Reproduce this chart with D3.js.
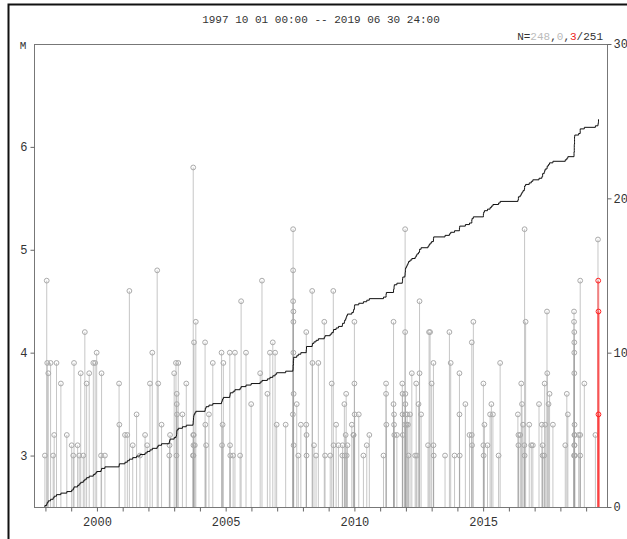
<!DOCTYPE html>
<html lang="ja">
<head>
  <meta charset="UTF-8" />
  <title>M-T</title>
  <style>
    body { margin: 0; background: #fff; }
    svg text { font-family: "Liberation Mono", "DejaVu Sans Mono", monospace; fill: #333; }
    .axis path { display: none; }
    .axis line { stroke: #666; }
    .axis text { font-size: 12px; fill: #333; }
  </style>
</head>
<body>
  <div id="chart"></div>
  <script src="https://d3js.org/d3.v7.min.js"></script>
  <script>
    // 期間・ラベル
    const titleText = '1997 10 01 00:00 -- 2019 06 30 24:00';
    const yearTicks = d3.range(1998, 2020);
    const yearLabels = [2000, 2005, 2010, 2015];
    const magTicks = [3, 4, 5, 6];
    const countTicks = [0, 100, 200, 300];

    // 地震 (灰色): 発生時期 (年) と M
    const grayYears = [
      1997.98, 1998.05, 1998.07, 1998.11, 1998.20, 1998.30, 1998.34, 1998.43, 1998.60, 1998.83,
      1999.02, 1999.08, 1999.11, 1999.25, 1999.31, 1999.37, 1999.47, 1999.53, 1999.60, 1999.70,
      1999.86, 1999.93, 1999.99,
      2000.16, 2000.18, 2000.31, 2000.86, 2000.87, 2001.09, 2001.18, 2001.26, 2001.39, 2001.54,
      2001.67, 2001.87, 2001.95, 2002.06, 2002.15, 2002.34, 2002.38, 2002.51, 2002.81, 2002.84,
      2003.00, 2003.07, 2003.10, 2003.10, 2003.11, 2003.16, 2003.32, 2003.47, 2002.82, 2003.09,
      2003.73, 2003.74, 2003.74, 2003.75, 2003.75, 2003.76, 2003.77, 2003.80, 2003.84,
      2004.20, 2004.21, 2004.24, 2004.35, 2004.50, 2004.84, 2004.86, 2004.88, 2004.91, 2005.16,
      2005.17, 2005.18,
      2005.29, 2005.36, 2005.56, 2005.60, 2005.79, 2005.99, 2006.34, 2006.41, 2006.62, 2006.72,
      2006.83, 2006.92, 2006.98, 2007.33,
      2007.61, 2007.62, 2007.62, 2007.62, 2007.63, 2007.63, 2007.63, 2007.64, 2007.64, 2007.76,
      2007.82,
      2007.92, 2008.13, 2008.13, 2008.14, 2008.36, 2008.37, 2008.43, 2008.51, 2008.60, 2008.83,
      2008.86, 2009.06, 2009.12, 2009.18, 2009.19, 2009.29, 2009.38, 2009.53, 2009.61, 2009.62,
      2009.66, 2009.68, 2009.70, 2009.73, 2009.90, 2009.96, 2009.97, 2010.00, 2010.00, 2010.01,
      2008.14, 2009.54,
      2010.17, 2010.35, 2010.48, 2010.58, 2011.13, 2011.23, 2011.23, 2011.24, 2011.52, 2011.52,
      2011.54, 2011.54, 2011.55, 2011.65,
      2011.86, 2011.87, 2011.87, 2011.88, 2011.96, 2011.97, 2011.97, 2011.98, 2011.98, 2011.99,
      2012.02, 2012.05, 2012.08, 2012.10,
      2012.16, 2012.23, 2012.36, 2012.40, 2012.43, 2012.49, 2012.53, 2012.53, 2012.59, 2012.86,
      2012.90,
      2012.94, 2013.00, 2013.07, 2013.07, 2013.52, 2013.69, 2013.74, 2013.89, 2014.08, 2014.08,
      2014.09, 2014.31, 2014.47, 2014.56, 2014.56, 2014.62, 2015.01, 2015.01, 2015.05, 2015.17,
      2015.27, 2015.32, 2015.38, 2015.60, 2015.66, 2013.08, 2014.57, 2015.02,
      2016.35, 2016.37, 2016.37, 2016.44, 2016.48, 2016.51, 2016.55, 2016.60, 2016.61, 2016.65,
      2016.61,
      2016.79, 2016.87, 2016.93, 2017.17, 2017.28, 2017.31, 2017.31, 2017.37, 2017.39, 2017.41,
      2017.48, 2017.49, 2017.54, 2017.58, 2017.71, 2018.19, 2018.25, 2018.29,
      2018.53, 2018.53, 2018.54, 2018.54, 2018.54, 2018.54, 2018.55, 2018.55, 2018.55, 2018.55,
      2018.53, 2018.54, 2018.55, 2018.56,
      2018.71, 2018.77, 2018.77, 2018.77, 2018.93,
      2019.36, 2019.46
    ];
    const grayMags = [
      3.0, 4.7, 3.9, 3.8, 3.9, 3.0, 3.2, 3.9, 3.7, 3.2,
      3.1, 3.0, 3.9, 3.1, 3.0, 3.8, 3.0, 4.2, 3.7, 3.8,
      3.9, 3.9, 4.0,
      3.0, 3.8, 3.0, 3.7, 3.3, 3.2, 3.2, 4.6, 3.1, 3.4,
      3.0, 3.2, 3.1, 3.7, 4.0, 4.8, 3.7, 3.3, 3.0, 3.2,
      3.8, 3.9, 3.6, 3.5, 3.4, 3.9, 3.4, 3.7, 3.1, 3.0,
      3.0, 5.8, 3.2, 3.1, 3.0, 3.2, 4.1, 3.1, 4.3,
      4.1, 3.3, 3.1, 3.4, 3.9, 4.0, 3.1, 3.3, 3.9, 4.0,
      3.1, 3.0,
      3.0, 4.0, 3.0, 4.5, 4.0, 3.5, 3.8, 4.7, 3.6, 4.0,
      4.1, 4.0, 3.3, 3.3,
      3.4, 5.2, 4.8, 4.5, 4.4, 4.3, 4.0, 3.6, 3.1, 3.5,
      3.0,
      3.3, 4.2, 3.3, 3.2, 4.6, 3.9, 3.1, 3.0, 3.9, 4.3,
      3.0, 3.0, 3.7, 4.6, 3.1, 3.3, 3.1, 3.0, 3.5, 3.0,
      3.2, 3.6, 3.0, 3.1, 3.3, 3.2, 3.2, 4.3, 3.7, 3.4,
      3.0, 3.1,
      3.4, 3.0, 3.1, 3.2, 3.0, 3.7, 3.6, 3.3, 4.3, 3.5,
      3.4, 3.3, 3.2, 3.2,
      3.7, 3.6, 3.4, 3.2, 3.3, 5.2, 4.2, 3.6, 3.5, 3.4,
      3.3, 3.4, 3.3, 3.0,
      3.4, 3.8, 3.0, 3.7, 3.0, 3.5, 4.5, 3.8, 3.4, 3.1,
      4.2,
      4.2, 3.7, 3.9, 3.1, 3.0, 4.2, 3.9, 3.0, 3.8, 3.4,
      3.0, 3.5, 3.2, 3.2, 4.1, 4.3, 3.7, 3.1, 3.3, 3.1,
      3.4, 3.5, 3.4, 3.0, 3.9, 3.0, 3.1, 3.0,
      3.4, 3.2, 3.1, 3.2, 3.7, 3.5, 3.3, 3.1, 5.2, 4.3,
      3.0,
      3.3, 3.1, 3.1, 3.5, 3.3, 3.1, 3.0, 3.0, 3.7, 3.3,
      4.4, 3.8, 3.5, 3.6, 3.3, 3.1, 3.6, 3.4,
      4.4, 4.3, 4.2, 4.1, 4.0, 3.8, 3.3, 3.2, 3.1, 3.0,
      3.0, 3.1, 3.2, 3.0,
      3.2, 3.2, 4.7, 3.0, 3.7,
      3.2, 5.1
    ];

    // 地震 (赤): 最近の3個
    const redYears = [2019.47, 2019.48, 2019.48];
    const redMags = [4.7, 4.4, 3.4];

    const width = 627;
    const height = 539;
    const plotL = 34, plotR = 607, plotT = 44, plotB = 507;

    const x = d3.scaleLinear().domain([1997.75, 2019.5]).range([39, 599]);
    const yM = d3.scaleLinear().domain([2.5, 7]).range([plotB, plotT]);
    const yN = d3.scaleLinear().domain([0, 300]).range([plotB, plotT]);

    const svg = d3.select('#chart')
      .append('svg')
      .attr('width', width)
      .attr('height', height);

    // 外枠
    svg.append('rect')
      .attr('x', 8.5).attr('y', 4.5)
      .attr('width', 700).attr('height', 600)
      .attr('fill', 'none').attr('stroke', '#111').attr('stroke-width', 2);

    svg.append('text')
      .attr('x', 321).attr('y', 23)
      .attr('text-anchor', 'middle')
      .attr('font-size', 11)
      .text(titleText);

    const nLabel = svg.append('text')
      .attr('x', 603).attr('y', 40)
      .attr('text-anchor', 'end')
      .attr('font-size', 11);
    nLabel.append('tspan').text('N=');
    nLabel.append('tspan').style('fill', '#bbb').text(grayYears.length);
    nLabel.append('tspan').text(',');
    nLabel.append('tspan').style('fill', '#bbb').text('0');
    nLabel.append('tspan').text(',');
    nLabel.append('tspan').style('fill', '#e22').text(redYears.length);
    nLabel.append('tspan').text('/' + (grayYears.length + redYears.length));

    svg.append('text')
      .attr('x', 23).attr('y', 49)
      .attr('text-anchor', 'middle')
      .attr('font-size', 11)
      .text('M');

    const gray = grayYears.map((t, i) => ({ t, m: grayMags[i] }));
    const red = redYears.map((t, i) => ({ t, m: redMags[i] }));

    // 縦線
    svg.append('g')
      .selectAll('line')
      .data(gray)
      .join('line')
      .attr('x1', d => x(d.t)).attr('x2', d => x(d.t))
      .attr('y1', plotB).attr('y2', d => yM(d.m))
      .attr('stroke', '#a0a0a0')
      .attr('stroke-opacity', 0.6);

    svg.append('g')
      .selectAll('circle')
      .data(gray)
      .join('circle')
      .attr('cx', d => x(d.t)).attr('cy', d => yM(d.m))
      .attr('r', 2.4)
      .attr('fill', 'none')
      .attr('stroke', '#aaa');

    svg.append('g')
      .selectAll('line')
      .data(red)
      .join('line')
      .attr('x1', d => x(d.t)).attr('x2', d => x(d.t))
      .attr('y1', plotB).attr('y2', d => yM(d.m))
      .attr('stroke', '#ff3030')
      .attr('stroke-width', 2)
      .attr('stroke-opacity', 0.55);

    svg.append('g')
      .selectAll('circle')
      .data(red)
      .join('circle')
      .attr('cx', d => x(d.t)).attr('cy', d => yM(d.m))
      .attr('r', 2.4)
      .attr('fill', 'none')
      .attr('stroke', '#f22');

    // 積算回数
    const all = gray.concat(red).sort((a, b) => a.t - b.t);
    const cum = [[all[0].t, 0]].concat(all.map((d, i) => [d.t, i + 1]));
    cum.push([x.domain()[1], all.length]);
    svg.append('path')
      .datum(cum)
      .attr('fill', 'none')
      .attr('stroke', '#111')
      .attr('stroke-width', 1)
      .attr('d', d3.line()
        .x(d => x(d[0]))
        .y(d => yN(d[1]))
        .curve(d3.curveStepAfter));

    // 枠
    svg.append('rect')
      .attr('x', plotL + 0.5).attr('y', plotT + 0.5)
      .attr('width', plotR - plotL).attr('height', plotB - plotT)
      .attr('fill', 'none').attr('stroke', '#777');

    svg.append('g')
      .attr('class', 'axis')
      .attr('transform', `translate(0,${plotB + 0.5})`)
      .call(d3.axisBottom(x)
        .tickValues(yearTicks)
        .tickSize(4)
        .tickPadding(6)
        .tickFormat(d => yearLabels.includes(d) ? d : ''));

    svg.append('g')
      .attr('class', 'axis')
      .attr('transform', `translate(${plotL + 0.5},0)`)
      .call(d3.axisLeft(yM).tickValues(magTicks).tickSize(4).tickPadding(3).tickFormat(d3.format('d')));

    svg.append('g')
      .attr('class', 'axis')
      .attr('transform', `translate(${plotR + 0.5},0)`)
      .call(d3.axisRight(yN).tickValues(countTicks).tickSize(4).tickPadding(2));
  </script>
</body>
</html>
